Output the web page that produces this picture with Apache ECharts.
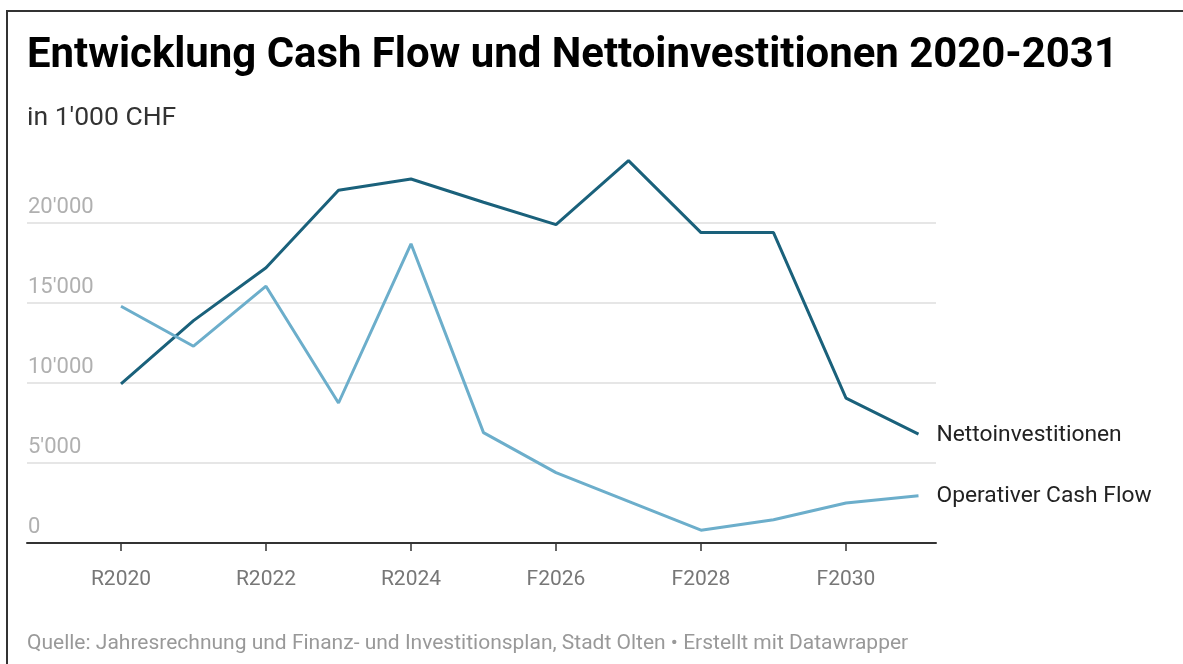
<!DOCTYPE html>
<html>
<head>
<meta charset="utf-8">
<script src="https://cdn.jsdelivr.net/npm/echarts@6/dist/echarts.min.js"></script>
<style>
  html, body { margin: 0; padding: 0; background: #fff; }
  #chart { position: absolute; left: 0; top: 0; width: 1183px; height: 664px; }
  #frame { position: absolute; left: 6px; top: 10px; width: 1200px; height: 700px;
           border-left: 2px solid #333; border-top: 2px solid #333; pointer-events: none; }
</style>
</head>
<body>
<div id="chart"></div>
<div id="frame"></div>
<script>
// Jahre (R = Rechnung, F = Finanzplan)
var years = ['R2020', 'R2021', 'R2022', 'R2023', 'R2024', 'F2025',
             'F2026', 'F2027', 'F2028', 'F2029', 'F2030', 'F2031'];
// in 1'000 CHF
var nettoinvestitionen = [9950, 13900, 17200, 22050, 22750, 21300,
                          19900, 23900, 19400, 19400, 9050, 6800];
var cashFlow = [14800, 12300, 16050, 8750, 18700, 6900,
                4400, 2600, 800, 1450, 2500, 2950];
var yTicks = [0, 5000, 10000, 15000, 20000];

function fmt(v) {
  // Tausender mit Apostroph
  return String(v).replace(/\B(?=(\d{3})+(?!\d))/g, "'");
}

var chart = echarts.init(document.getElementById('chart'));

var font = 'Roboto, "Noto Sans", sans-serif';

var option = {
  animation: false,
  textStyle: { fontFamily: font },
  title: [{
    text: 'Entwicklung Cash Flow und Nettoinvestitionen 2020-2031',
    left: 22, top: 31,
    textStyle: { fontSize: 41.9, fontWeight: 'bold', color: '#000', fontFamily: font }
  }, {
    text: "in 1'000 CHF",
    left: 22, top: 100,
    textStyle: { fontSize: 26.5, fontWeight: 'normal', color: '#333', fontFamily: font }
  }, {
    text: 'Quelle: Jahresrechnung und Finanz- und Investitionsplan, Stadt Olten • Erstellt mit Datawrapper',
    left: 22, top: 628,
    textStyle: { fontSize: 21, fontWeight: 'normal', color: '#999', fontFamily: font }
  }],
  grid: [
    // hintergrund: Gitterlinien und Achse über die ganze Breite
    { left: 27, right: 247, top: 143, bottom: 121 },
    // daten
    { left: 121, right: 264.5, top: 143, bottom: 121 }
  ],
  xAxis: [{
    type: 'value', gridIndex: 0, min: 0, max: 1,
    axisLine: { show: true, lineStyle: { color: '#333', width: 2 } },
    axisTick: { show: false }, axisLabel: { show: false }, splitLine: { show: false }
  }, {
    type: 'category', gridIndex: 1, data: years, boundaryGap: false,
    axisLine: { show: false },
    axisTick: { show: true, interval: 1, length: 8, lineStyle: { color: '#333', width: 1.5 } },
    axisLabel: { interval: 1, margin: 26, fontSize: 21, color: '#777', fontFamily: font },
    splitLine: { show: false }
  }],
  yAxis: [{
    type: 'value', gridIndex: 0, min: 0, max: 25000, interval: 5000,
    axisLine: { show: false }, axisTick: { show: false },
    axisLabel: {
      inside: true, margin: 1, align: 'left', verticalAlign: 'bottom',
      padding: [0, 0, 5, 0], fontSize: 22, color: '#b0b0b0', fontFamily: font,
      showMaxLabel: false,
      formatter: function (v) { return yTicks.indexOf(v) >= 0 ? fmt(v) : ''; }
    },
    splitLine: {
      show: true, showMaxLine: false,
      lineStyle: { color: ['#e6e6e6', '#e6e6e6', '#e6e6e6', '#e6e6e6', '#e6e6e6', 'rgba(0,0,0,0)'], width: 2 }
    }
  }, {
    type: 'value', gridIndex: 1, min: 0, max: 25000, show: false
  }],
  series: [{
    name: 'Nettoinvestitionen',
    type: 'line', xAxisIndex: 1, yAxisIndex: 1,
    data: nettoinvestitionen,
    symbol: 'none',
    lineStyle: { color: '#1a617b', width: 3 },
    itemStyle: { color: '#1a617b' },
    endLabel: { show: true, formatter: '{a}', distance: 18, offset: [0, 1], fontSize: 22.8, color: '#222', fontFamily: font }
  }, {
    name: 'Operativer Cash Flow',
    type: 'line', xAxisIndex: 1, yAxisIndex: 1,
    data: cashFlow,
    symbol: 'none',
    lineStyle: { color: '#6caecb', width: 3 },
    itemStyle: { color: '#6caecb' },
    endLabel: { show: true, formatter: '{a}', distance: 18, offset: [0, 1], fontSize: 22.8, color: '#222', fontFamily: font }
  }]
};

chart.setOption(option);
</script>
</body>
</html>
